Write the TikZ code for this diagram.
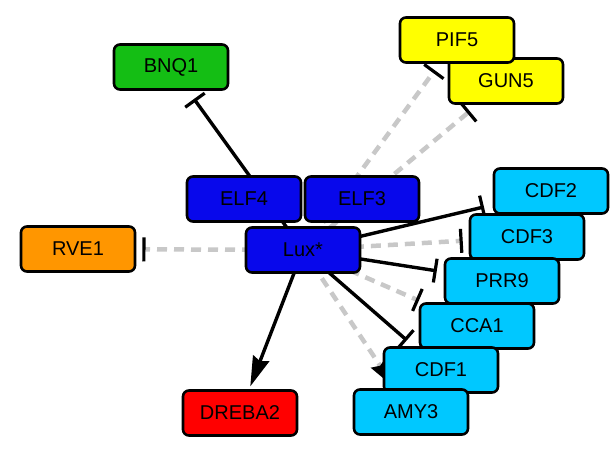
\documentclass[tikz,border=0pt]{standalone}
\usepackage{fontspec}
\setmainfont{Liberation Sans}
\usetikzlibrary{arrows.meta}
\pgfdeclarelayer{bg}
\pgfsetlayers{bg,main}
\definecolor{cgreen}{RGB}{20,190,20}
\definecolor{cyellow}{RGB}{255,255,0}
\definecolor{cblue}{RGB}{8,8,235}
\definecolor{ccyan}{RGB}{0,200,255}
\definecolor{corange}{RGB}{255,150,0}
\definecolor{cred}{RGB}{255,0,0}
\definecolor{cgray}{RGB}{200,200,200}
\tikzset{
  gene/.style={draw=black, line width=2.6pt, rounded corners=6pt, minimum width=114pt, minimum height=45pt, inner sep=0pt, font=\fontsize{20}{23}\selectfont, text=black},
  solidedge/.style={draw=black, line width=3.4pt},
  grayedge/.style={draw=cgray, line width=4.5pt, dash pattern=on 10pt off 7pt},
  teeend/.style={-{Bar[width=24pt,line width=3.2pt,color=black]}},
  arrowend/.style={-{Stealth[length=30pt,width=17pt,inset=3pt,color=black]}}
}
\begin{document}
\begin{tikzpicture}[x=1pt,y=-1pt]
\useasboundingbox (0,0) rectangle (616,448);
% nodes
\node[gene, fill=cgreen] (bnq1) at (171,67) {BNQ1};
\node[gene, fill=cyellow] (gun5) at (506,81) {GUN5};
\node[gene, fill=cyellow] (pif5) at (457,40) {PIF5};
\node[gene, fill=cblue] (elf4) at (244,199) {ELF4};
\node[gene, fill=cblue] (elf3) at (362,199) {ELF3};
\node[gene, fill=cblue] (lux) at (303,250) {Lux*};
\node[gene, fill=corange] (rve1) at (78,249) {RVE1};
\node[gene, fill=cred] (dreba2) at (240,413) {DREBA2};
\node[gene, fill=ccyan] (cdf2) at (551,191) {CDF2};
\node[gene, fill=ccyan] (cdf3) at (527,237) {CDF3};
\node[gene, fill=ccyan] (prr9) at (502,281) {PRR9};
\node[gene, fill=ccyan] (cca1) at (477,326) {CCA1};
\node[gene, fill=ccyan] (cdf1) at (441,370) {CDF1};
\node[gene, fill=ccyan] (amy3) at (411,412) {AMY3};
% edges
\begin{pgfonlayer}{bg}
\draw[grayedge, teeend, shorten >=6pt] (lux.center) -- (rve1);
\draw[grayedge, teeend, shorten >=8pt] (lux.center) -- (pif5);
\draw[grayedge, teeend, shorten >=10pt] (lux.center) -- (gun5);
\draw[grayedge, teeend, shorten >=6pt] (lux.center) -- (cdf3);
\draw[grayedge, teeend, shorten >=4pt] (lux.center) -- (cca1);
\draw[grayedge, arrowend] (lux.center) -- (amy3);
\draw[solidedge, teeend, shorten >=10pt] (lux.center) -- (bnq1);
\draw[solidedge, teeend, shorten >=9pt] (lux.center) -- (cdf2);
\draw[solidedge, teeend, shorten >=7pt] (lux.center) -- (prr9);
\draw[solidedge, teeend, shorten >=9pt] (lux.center) -- (cdf1);
\draw[solidedge, arrowend, shorten >=3pt] (lux.center) -- (dreba2);
\end{pgfonlayer}
\end{tikzpicture}
\end{document}
